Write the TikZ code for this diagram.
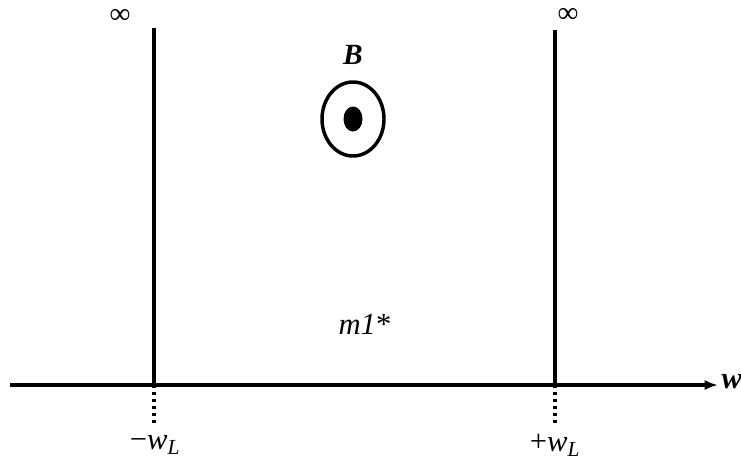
\documentclass[tikz,border=0pt]{standalone}
\usepackage{fontspec}
\setmainfont{Liberation Serif}
\usetikzlibrary{arrows.meta,positioning}
\definecolor{ink}{HTML}{000000}
\newcommand{\wL}{\textit{w}\textsubscript{\textit{L}}}
\tikzset{
  >={Latex[length=10pt,width=7.5pt]},
  every node/.style={text=ink},
  wall/.style={draw=ink,line width=2.6pt},
  axisline/.style={->,draw=ink,line width=2.4pt},
  ext/.style={draw=ink,line width=3pt,dash pattern=on 2.6pt off 2.6pt},
  lbl/.style={font=\fontsize{23}{24}\selectfont,inner sep=1pt},
  inf/.style={font=\fontsize{22}{24}\selectfont,inner sep=0pt}
}
\begin{document}
\begin{tikzpicture}[x=0.75pt,y=-0.75pt]
  \useasboundingbox (0,0) rectangle (741,465);
  % axis
  \coordinate (ax0) at (10,385);
  \coordinate (ax1) at (718,385);
  \draw[axisline] (ax0)--(ax1);
  \node[lbl,font=\fontsize{23}{24}\selectfont\bfseries\itshape,anchor=west] (wlab) at (720,382) {w};

  % walls
  \coordinate (lt) at (154,28);
  \coordinate (lb) at (154,385);
  \coordinate (ld) at (154,426);
  \coordinate (rt) at (555,30);
  \coordinate (rb) at (555,385);
  \coordinate (rd) at (555,426);
  \draw[wall] (lt)--(lb);
  \draw[wall] (rt)--(rb);
  \draw[ext] (lb)--(ld);
  \draw[ext] (rb)--(rd);
  \node[inf] (infl) at (120,16) {∞};
  \node[inf] (infr) at (568,15) {∞};
  \node[lbl] (wneg) at (155,445) {−\wL};
  \node[lbl] (wpos) at (555,445) {+\wL};

  % field
  \node[lbl,font=\fontsize{22}{24}\selectfont\bfseries\itshape] (blab) at (353,55) {B};
  \draw[draw=ink,line width=2.6pt] (353,119) ellipse (31 and 37);
  \fill[ink] (353,119) ellipse (9.5 and 12.5);
  \node[lbl] (mlab) at (365,324) {\textit{m1}*};
\end{tikzpicture}
\end{document}
